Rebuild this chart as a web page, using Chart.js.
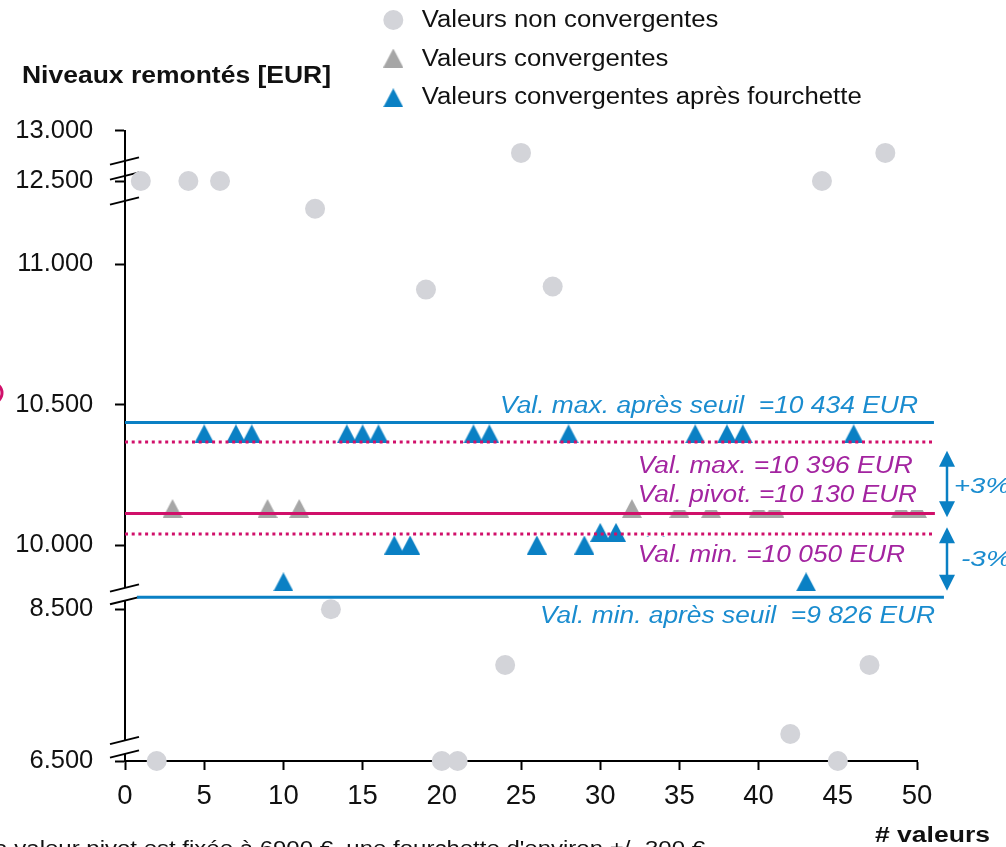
<!DOCTYPE html>
<html>
<head>
<meta charset="utf-8">
<script src="https://cdn.jsdelivr.net/npm/chart.js@4.4.1/dist/chart.umd.min.js"></script>
<style>
  html, body { margin: 0; padding: 0; background: #fff; }
  canvas { display: block; }
</style>
</head>
<body>
<canvas id="chart" width="1006" height="847"></canvas>
<script>
/* Niveaux remontés – broken y axis scatter */

const FONT = "'Liberation Sans', Arial, sans-serif";

// ---------- Data -------------------------------------------------------
// y axis is broken: each segment has its own scale
const yBreakReal = [6500, 8500, 10000, 11000, 12500, 13000];
const yBreakVirt = [0, 151.7, 216, 496.7, 580, 630.5];
const yTickValues = [6500, 8500, 10000, 10500, 11000, 12500, 13000];
const yTickLabels = ["6.500", "8.500", "10.000", "10.500", "11.000", "12.500", "13.000"];

const nonConvX = [1, 2, 4, 6, 12, 13, 19, 20, 21, 24, 25, 27, 42, 44, 45, 47, 48];
const nonConvY = [12500, 6500, 12500, 12500, 12000, 8500, 10910, 6500, 6500, 7766, 12778, 10921, 6856, 12500, 6500, 7766, 12778];

const convX = [3, 9, 11, 32, 35, 37, 40, 41, 49, 50];
const convY = [10130, 10130, 10130, 10130, 10130, 10130, 10130, 10130, 10130, 10130];

const fourchX = [5, 7, 8, 10, 14, 15, 16, 17, 18, 22, 23, 26, 28, 29, 30, 31, 33, 34, 36, 38, 39, 43, 46];
const fourchY = [10396, 10396, 10396, 9141, 10396, 10396, 10396, 10000, 10000, 10396, 10396, 10000,
                 10396, 10000, 10045, 10045, 10000, 10000, 10396, 10396, 10396, 9141, 10396];

const refNames  = ["Val. max. après seuil", "Val. max.", "Val. pivot.", "Val. min.", "Val. min. après seuil"];
const refValues = [10436, 10367, 10112, 10039, 8780];
const refTexts  = ["Val. max. après seuil  =10 434 EUR", "Val. max. =10 396 EUR", "Val. pivot. =10 130 EUR",
                   "Val. min. =10 050 EUR", "Val. min. après seuil  =9 826 EUR"];

const legendLabels = ["Valeurs non convergentes", "Valeurs convergentes", "Valeurs convergentes après fourchette"];

// ---------- Styles -----------------------------------------------------
const COLORS = {
  blue: "#0a80c4",
  blueText: "#1a8ccf",
  pink: "#d0106a",
  purple: "#a324a0",
  greyCircle: "#d3d4d9",
  greyTri: "#a6a6a6",
  text: "#111",
};

const LINE_STYLE = [
  { color: COLORS.blue, width: 3, dash: [],       from: 0,    to: 51.07 },
  { color: COLORS.pink, width: 3, dash: [3, 3.7], from: 0,    to: 51.07 },
  { color: COLORS.pink, width: 3, dash: [],       from: 0,    to: 51.13 },
  { color: COLORS.pink, width: 3, dash: [3, 3.7], from: 0,    to: 51.07 },
  { color: COLORS.blue, width: 3, dash: [],       from: 0.76, to: 51.7 },
];

// label placement: [align, x, baseline, width, colour]
const REF_LABEL_POS = [
  ["right", 918,   413.3, 418,   COLORS.blueText],
  ["left",  637.7, 472.7, 275,   COLORS.purple],
  ["left",  637.7, 501.7, 279.3, COLORS.purple],
  ["left",  637.7, 561.7, 267.3, COLORS.purple],
  ["right", 935,   623.3, 395,   COLORS.blueText],
];

function toVirt(v) {
  for (let i = 1; i < yBreakReal.length; i++) {
    if (v <= yBreakReal[i] || i === yBreakReal.length - 1) {
      const t = (v - yBreakReal[i - 1]) / (yBreakReal[i] - yBreakReal[i - 1]);
      return yBreakVirt[i - 1] + t * (yBreakVirt[i] - yBreakVirt[i - 1]);
    }
  }
}

const pts = (xs, ys) => xs.map((x, i) => ({ x, y: toVirt(ys[i]) }));

// Excel-like triangle marker (a bit taller than equilateral)
function triangleMarker(color, w, h) {
  const c = document.createElement("canvas");
  c.width = w; c.height = h;
  const g = c.getContext("2d");
  g.fillStyle = color;
  g.beginPath();
  g.moveTo(w / 2, 0); g.lineTo(w, h); g.lineTo(0, h);
  g.closePath(); g.fill();
  return c;
}

// ---------- Helpers ----------------------------------------------------
function fitText(ctx, text, x, y, font, color, width, align) {
  ctx.save();
  ctx.font = font;
  ctx.fillStyle = color;
  ctx.textBaseline = "alphabetic";
  ctx.textAlign = align || "left";
  const sx = width ? width / ctx.measureText(text).width : 1;
  ctx.translate(x, y);
  ctx.scale(sx, 1);
  ctx.fillText(text, 0, 0);
  ctx.restore();
}

function arrow(ctx, x, y1, y2) {
  const head = 16, half = 8;
  ctx.save();
  ctx.strokeStyle = COLORS.blue;
  ctx.fillStyle = COLORS.blue;
  ctx.lineWidth = 2.5;
  ctx.beginPath();
  ctx.moveTo(x, y1 + head - 2);
  ctx.lineTo(x, y2 - head + 2);
  ctx.stroke();
  ctx.beginPath();
  ctx.moveTo(x, y1); ctx.lineTo(x - half, y1 + head); ctx.lineTo(x + half, y1 + head); ctx.closePath();
  ctx.fill();
  ctx.beginPath();
  ctx.moveTo(x, y2); ctx.lineTo(x - half, y2 - head); ctx.lineTo(x + half, y2 - head); ctx.closePath();
  ctx.fill();
  ctx.restore();
}

// ---------- Plugins ----------------------------------------------------
const axisBreaks = {
  id: "axisBreaks",
  beforeDatasetsDraw(chart) {
    const ctx = chart.ctx;
    const ax = chart.chartArea.left;
    const slash = (y) => { ctx.beginPath(); ctx.moveTo(ax - 15, y + 3.6); ctx.lineTo(ax + 14, y - 3.6); ctx.stroke(); };
    ctx.save();
    // white gaps between paired slashes
    ctx.fillStyle = "#fff";
    [[588, 600.7], [740.5, 754]].forEach(([a, b]) => {
      ctx.beginPath();
      ctx.moveTo(ax - 15, a + 3.6); ctx.lineTo(ax + 14, a - 3.6);
      ctx.lineTo(ax + 14, b - 3.6); ctx.lineTo(ax - 15, b + 3.6);
      ctx.closePath(); ctx.fill();
    });
    ctx.strokeStyle = "#000";
    ctx.lineWidth = 2;
    [161, 176, 201, 588, 600.7, 740.5, 754].forEach(slash);
    // edge of a marker from the neighbouring figure
    ctx.strokeStyle = COLORS.pink;
    ctx.lineWidth = 3;
    ctx.beginPath(); ctx.arc(-8, 393, 10, 0, Math.PI * 2); ctx.stroke();
    ctx.restore();
  },
};

const annotations = {
  id: "annotations",
  afterDatasetsDraw(chart) {
    const ctx = chart.ctx;
    const ital = "italic 23.5px " + FONT;

    // white text boxes hide markers behind them
    ctx.save();
    ctx.fillStyle = "#fff";
    ctx.fillRect(641, 449, 289, 61);
    ctx.fillRect(634, 537, 281, 31);
    ctx.restore();

    refTexts.forEach((t, i) => {
      const [align, x, y, w, c] = REF_LABEL_POS[i];
      fitText(ctx, t, x, y, ital, c, w, align);
    });

    arrow(ctx, 947, 450.7, 517.3);
    arrow(ctx, 947, 527.3, 590.7);
    fitText(ctx, "+3%", 954, 493.3, "italic 22px " + FONT, COLORS.blueText, 56);
    fitText(ctx, "-3%", 961, 566, "italic 22px " + FONT, COLORS.blueText, 50);

    // legend
    const markerY = [20, 58, 97.8];
    const textY = [26.7, 66, 104];
    const textW = [296.6, 246.6, 440];
    legendLabels.forEach((lbl, i) => {
      const ds = chart.data.datasets[i];
      ctx.save();
      ctx.fillStyle = ds.pointBackgroundColor;
      Chart.helpers.drawPoint(ctx, { pointStyle: ds.pointStyle, radius: ds.pointRadius, rotation: 0, borderWidth: 0 }, 393.3, markerY[i]);
      ctx.restore();
      fitText(ctx, lbl, 421.7, textY[i], "23.3px " + FONT, COLORS.text, textW[i]);
    });

    // titles and note
    fitText(ctx, "Niveaux remontés [EUR]", 22, 83, "bold 23px " + FONT, COLORS.text, 309);
    fitText(ctx, "# valeurs", 875, 841.7, "bold 22px " + FONT, COLORS.text, 115);
    fitText(ctx, "La valeur pivot est fixée à 6900 €, une fourchette d'environ +/- 300 €", 705, 855,
            "20px " + FONT, COLORS.text, 724, "right");
  },
};

// ---------- Chart ------------------------------------------------------
const datasets = [
  { label: legendLabels[0], data: pts(nonConvX, nonConvY), pointStyle: "circle", pointRadius: 10,
    pointBackgroundColor: COLORS.greyCircle },
  { label: legendLabels[1], data: pts(convX, convY), pointStyle: triangleMarker(COLORS.greyTri, 20, 19), pointRadius: 10,
    pointBackgroundColor: COLORS.greyTri },
  { label: legendLabels[2], data: pts(fourchX, fourchY), pointStyle: triangleMarker(COLORS.blue, 20, 19), pointRadius: 10,
    pointBackgroundColor: COLORS.blue },
].map(d => ({ ...d, pointBorderWidth: 0, pointHoverRadius: d.pointRadius, showLine: false, clip: false, order: 1 }));

refNames.forEach((name, i) => {
  const s = LINE_STYLE[i];
  datasets.push({
    label: name,
    data: [{ x: s.from, y: toVirt(refValues[i]) }, { x: s.to, y: toVirt(refValues[i]) }],
    showLine: true,
    pointRadius: 0,
    borderColor: s.color,
    borderWidth: s.width,
    borderDash: s.dash,
    borderCapStyle: "butt",
    clip: false,
    order: 0,
  });
});

new Chart(document.getElementById("chart"), {
  type: "scatter",
  data: { datasets },
  options: {
    responsive: false,
    animation: false,
    devicePixelRatio: 1,
    layout: { padding: { top: 130.5, right: 89, bottom: 0, left: 0 } },
    plugins: { legend: { display: false }, tooltip: { enabled: false } },
    scales: {
      x: {
        type: "linear",
        min: 0,
        max: 50,
        afterFit: s => { s.height = 86; },
        border: { display: true, color: "#000", width: 2 },
        grid: { display: true, drawOnChartArea: false, drawTicks: true, tickLength: 9, tickWidth: 2, tickColor: "#000" },
        ticks: { stepSize: 5, maxRotation: 0, padding: 10, color: COLORS.text, font: { family: FONT, size: 27.5 } },
      },
      y: {
        type: "linear",
        min: 0,
        max: yBreakVirt[yBreakVirt.length - 1],
        afterFit: s => { s.width = 125; },
        afterBuildTicks: axis => { axis.ticks = yTickValues.map(v => ({ value: toVirt(v) })); },
        border: { display: true, color: "#000", width: 2 },
        grid: { display: true, drawOnChartArea: false, drawTicks: true, tickLength: 10, tickWidth: 2, tickColor: "#000" },
        ticks: { padding: 21.7, color: COLORS.text, font: { family: FONT, size: 25.5 },
                 callback: (v, idx) => yTickLabels[idx] },
      },
    },
  },
  plugins: [axisBreaks, annotations],
});
</script>
</body>
</html>
